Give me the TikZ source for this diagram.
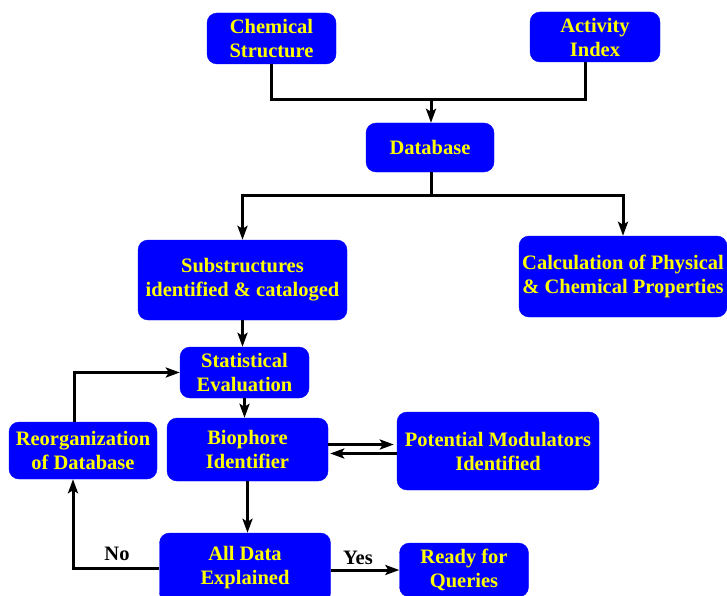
\documentclass[tikz,border=0pt]{standalone}
\usepackage{fontspec}
\setmainfont{Liberation Serif}
\usepackage{tikz}
\usetikzlibrary{arrows.meta}
\definecolor{boxblue}{HTML}{0000FF}
\definecolor{boxtext}{HTML}{FFFF00}

\begin{document}
\begin{tikzpicture}[
  x=1pt, y=-1pt,
  box/.style={
    draw=boxblue,
    fill=boxblue,
    text=boxtext,
    rounded corners=10pt,
    inner sep=0pt,
    align=center,
    font=\fontsize{20.5}{24}\selectfont\bfseries
  },
  line/.style={line width=3pt},
  arrow/.style={line,-{Stealth[length=14pt,width=10pt,inset=3pt]}},
  lbl/.style={font=\fontsize{20.5}{24}\selectfont\bfseries}
]
  \useasboundingbox (0,0) rectangle (727,596);

  \node[box,minimum width=129pt,minimum height=51pt]
    (chem) at (271.5,38.5) {Chemical\\Structure};
  \node[box,minimum width=130pt,minimum height=50pt]
    (act) at (595,37) {Activity\\Index};
  \node[box,minimum width=128pt,minimum height=49pt]
    (db) at (430,147.5) {Database};
  \node[box,minimum width=209pt,minimum height=80pt]
    (sub) at (242.5,280) {Substructures\\identified \& cataloged};
  \node[box,minimum width=208pt,minimum height=81pt]
    (calc) at (623,276.5) {Calculation of Physical\\\& Chemical Properties};
  \node[box,minimum width=129pt,minimum height=51pt]
    (stat) at (244.5,372.5) {Statistical\\Evaluation};
  \node[box,minimum width=148pt,minimum height=57pt]
    (reorg) at (83,450.5) {Reorganization\\of Database};
  \node[box,minimum width=161pt,minimum height=63pt]
    (bio) at (247.5,449.5) {Biophore\\Identifier};
  \node[box,minimum width=202pt,minimum height=78pt]
    (mod) at (498,451) {Potential Modulators\\Identified};
  \node[box,minimum width=171pt,minimum height=70pt]
    (all) at (245,568) {All Data\\Explained};
  \node[box,minimum width=129pt,minimum height=54pt]
    (ready) at (464,570) {Ready for\\Queries};

  \coordinate (merge) at (431,100);
  \coordinate (fork) at (431,195);
  \coordinate (nocorner) at (73,568);

  \draw[line] (chem.south) |- (merge) -| ([xshift=-10pt]act.south);
  \draw[arrow] (merge) -- (merge |- db.north);
  \draw[line] (db.south -| fork) -- (fork);
  \draw[arrow] (fork) -| (sub.north);
  \draw[arrow] (fork) -| (calc.north);
  \draw[arrow] (sub.south) -- (sub.south |- stat.north);
  \draw[arrow] (stat.south) -- (stat.south |- bio.north);
  \draw[arrow] (bio.south) -- (bio.south |- all.north);
  \draw[arrow,shorten >=3pt] ([yshift=5pt]bio.east) -- ([yshift=5pt]bio.east -| mod.west);
  \draw[arrow,shorten >=2pt] ([yshift=-4pt]bio.east -| mod.west) -- ([yshift=-4pt]bio.east);
  \draw[arrow] (all.west) -- (nocorner) -- (nocorner |- reorg.south);
  \draw[arrow] ([xshift=-9pt]reorg.north) |- (stat.west);
  \draw[arrow] (all.east |- ready.west) -- (ready.west);

  \node[lbl] (no) at (117,554) {No};
  \node[lbl] (yes) at (358,558) {Yes};
\end{tikzpicture}
\end{document}
